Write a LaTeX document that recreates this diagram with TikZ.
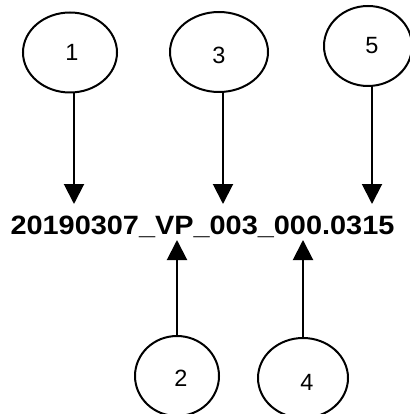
\documentclass[tikz,border=0pt]{standalone}
\usepackage{fontspec}
\usepackage{graphicx}
\setmainfont{Liberation Sans}
\usetikzlibrary{shapes.geometric,arrows.meta}
\tikzset{
  oval/.style={draw=black, line width=2pt, ellipse, inner sep=0pt,
    minimum height=80pt},
  digit/.style={font=\fontsize{23.5}{23.5}\selectfont},
  pointer/.style={draw=black, line width=2pt, -{Triangle[width=20pt,length=20pt]}},
}
\begin{document}
\begin{tikzpicture}[x=1pt,y=-1pt]
\useasboundingbox (0,0) rectangle (409,414);
\node[oval, minimum width=94pt] (n1) at (70,52.5) {};
\node[oval, minimum width=98pt] (n3) at (219,52) {};
\node[oval, minimum width=88pt] (n5) at (368,46) {};
\node[oval, minimum width=84pt] (n2) at (177,376) {};
\node[oval, minimum width=90pt] (n4) at (303,378) {};
\node[digit] (l1) at ([xshift=2pt]n1.center) {1};
\node[digit] (l3) at ([xshift=0pt,yshift=-3pt]n3.center) {3};
\node[digit] (l5) at ([xshift=4pt]n5.center) {5};
\node[digit] (l2) at ([xshift=4pt,yshift=-2pt]n2.center) {2};
\node[digit] (l4) at ([xshift=4pt,yshift=-4pt]n4.center) {4};
\node[anchor=base, inner sep=0pt] (code) at (202.5,234)
  {\scalebox{1.09}[1]{\fontsize{26.5}{26.5}\selectfont\bfseries 20190307\_VP\_003\_000.0315}};
\coordinate (t1) at (74,204);
\coordinate (t3) at (223,204);
\coordinate (t5) at (372,204);
\coordinate (t2) at (177,240);
\coordinate (t4) at (303,240);
\draw[pointer] (n1.south -| t1) -- (t1);
\draw[pointer] (n3.south -| t3) -- (t3);
\draw[pointer] (n5.south -| t5) -- (t5);
\draw[pointer] (n2.north -| t2) -- (t2);
\draw[pointer] (n4.north -| t4) -- (t4);
\end{tikzpicture}
\end{document}
